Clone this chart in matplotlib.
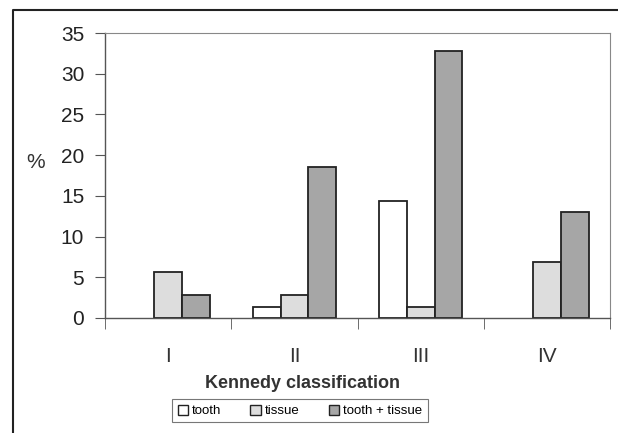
import matplotlib
matplotlib.use('Agg')
import matplotlib.pyplot as plt
import numpy as np
from matplotlib.lines import Line2D
from matplotlib.patches import Patch

plt.rcParams['font.family'] = ['Liberation Sans', 'DejaVu Sans']

categories = ['I', 'II', 'III', 'IV']
tooth = [0, 1.4, 14.4, 0]
tissue = [5.6, 2.8, 1.4, 6.9]
tooth_tissue = [2.8, 18.6, 32.8, 13.0]

fig = plt.figure(figsize=(6.18, 4.33), dpi=100)
ax = fig.add_axes([0.170, 0.2656, 0.817, 0.658])

x = np.arange(len(categories))
w = 0.22
series = [(tooth, -w, 'white', 'tooth'),
          (tissue, 0, '#dddddd', 'tissue'),
          (tooth_tissue, w, '#a6a6a6', 'tooth + tissue')]
handles = []
for vals, off, col, lab in series:
    vals = np.array(vals, dtype=float)
    lw = np.where(vals > 0, 1.3, 0)  # no outline for empty bars
    ax.bar(x + off, vals, w, color=col, edgecolor='#222222', linewidth=lw)
    handles.append(Patch(facecolor=col, edgecolor='#222222', linewidth=1.0, label=lab))

ax.set_xlim(-0.5, 3.5)
ax.set_ylim(0, 35)
ax.set_yticks(range(0, 36, 5))
ax.set_xticks(x)
ax.set_xticklabels(categories)
ax.set_xticks(np.arange(-0.5, 4, 1), minor=True)
ax.tick_params(axis='x', which='major', length=0, pad=21, labelsize=15, labelcolor='#333333')
ax.tick_params(axis='x', which='minor', length=8, direction='out', color='#555555')
ax.tick_params(axis='y', length=7, direction='out', labelsize=15, color='#555555', labelcolor='#222222', pad=8)

for s in ['top', 'right']:
    ax.spines[s].set_linestyle((0, (1, 1)))
    ax.spines[s].set_color('#888888')
for s in ['left', 'bottom']:
    ax.spines[s].set_color('#555555')
    ax.spines[s].set_linewidth(1.0)

ax.set_xlabel('Kennedy classification', fontsize=13, fontweight='bold', color='#333333')
ax.xaxis.set_label_coords(0.392, -0.20)
fig.text(0.057, 0.625, '%', fontsize=15, ha='center', va='center', color='#333333')

leg = ax.legend(handles=handles, loc='upper center', bbox_to_anchor=(0.386, -0.262), ncol=3, frameon=True,
                fancybox=False, edgecolor='#555555', fontsize=9.5, handlelength=0.8, handleheight=0.8,
                handletextpad=0.3, columnspacing=2.2, borderpad=0.4)
leg.get_frame().set_linewidth(0.8)

# outer frame (left and top edges)
fig.add_artist(Line2D([13 / 618, 13 / 618, 1], [0, 1 - 10 / 433, 1 - 10 / 433],
                      transform=fig.transFigure, color='#222222', linewidth=1.5))

fig.savefig('out.png', dpi=100)
